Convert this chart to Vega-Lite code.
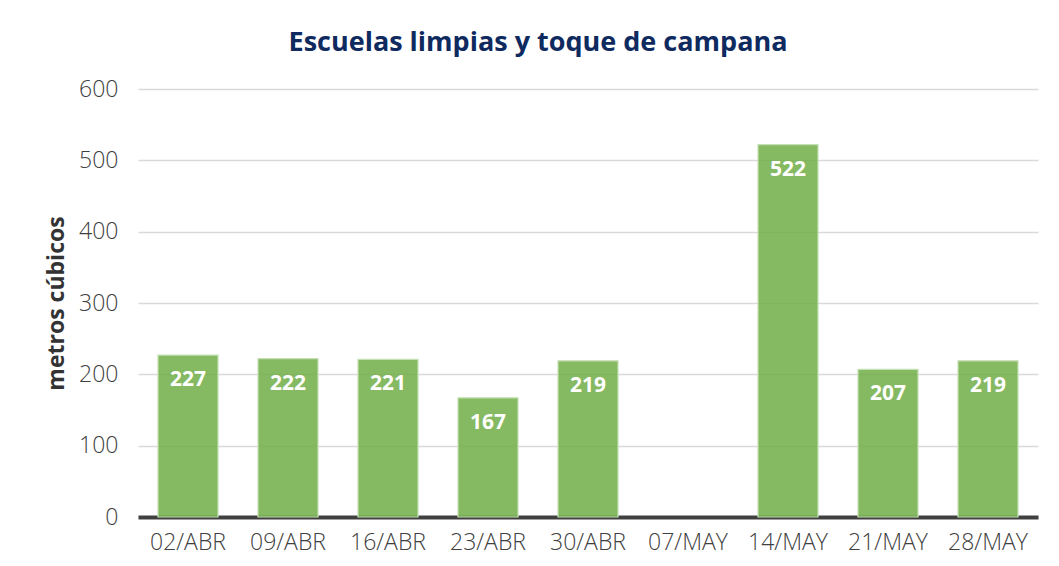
{
  "$schema": "https://vega.github.io/schema/vega-lite/v6.json",
  "width": 900,
  "height": 428,
  "autosize": {"type": "none"},
  "padding": {"left": 138, "top": 89, "right": 21, "bottom": 49},
  "background": "white",
  "config": {"view": {"stroke": null}, "font": "Open Sans"},
  "title": {
    "text": "Escuelas limpias y toque de campana",
    "anchor": "middle",
    "frame": "group",
    "dx": -50,
    "offset": 21,
    "fontSize": 27,
    "font": "Open Sans",
    "fontWeight": "bold",
    "color": "#0F2A5F"
  },
  "data": {
    "values": [
      {"fecha": "02/ABR", "valor": 227},
      {"fecha": "09/ABR", "valor": 222},
      {"fecha": "16/ABR", "valor": 221},
      {"fecha": "23/ABR", "valor": 167},
      {"fecha": "30/ABR", "valor": 219},
      {"fecha": "07/MAY", "valor": null},
      {"fecha": "14/MAY", "valor": 522},
      {"fecha": "21/MAY", "valor": 207},
      {"fecha": "28/MAY", "valor": 219}
    ]
  },
  "encoding": {
    "x": {
      "field": "fecha",
      "type": "nominal",
      "sort": null,
      "scale": {
        "domain": ["02/ABR", "09/ABR", "16/ABR", "23/ABR", "30/ABR", "07/MAY", "14/MAY", "21/MAY", "28/MAY"],
        "paddingInner": 0.4,
        "paddingOuter": 0.2
      },
      "axis": {
        "title": null,
        "labelAngle": 0,
        "labelFontSize": 23,
        "labelFontWeight": 300,
        "labelColor": "#404040",
        "labelFont": "Open Sans",
        "labelPadding": 14,
        "ticks": false,
        "domainColor": "#404040",
        "domainWidth": 4
      }
    },
    "y": {
      "field": "valor",
      "type": "quantitative",
      "scale": {"domain": [0, 600]},
      "axis": {
        "title": "metros cúbicos",
        "titleFontSize": 23,
        "titleFontWeight": "bold",
        "titleColor": "#333333",
        "titleFont": "Open Sans",
        "titlePadding": 10,
        "values": [0, 100, 200, 300, 400, 500, 600],
        "labelFontSize": 23,
        "labelFontWeight": 300,
        "labelColor": "#404040",
        "labelFont": "Open Sans",
        "labelPadding": 20,
        "ticks": false,
        "domain": false,
        "gridColor": "#D9D9D9",
        "gridWidth": 1.5
      }
    }
  },
  "layer": [
    {"mark": {"type": "bar", "color": "#70AD47", "fillOpacity": 0.85, "stroke": "#C5E0B3", "strokeWidth": 1.2}},
    {
      "mark": {
        "type": "text",
        "color": "white",
        "fontSize": 21,
        "fontWeight": "bold",
        "font": "Open Sans",
        "baseline": "middle",
        "dy": 25
      },
      "encoding": {"text": {"field": "valor", "type": "quantitative"}}
    }
  ]
}
